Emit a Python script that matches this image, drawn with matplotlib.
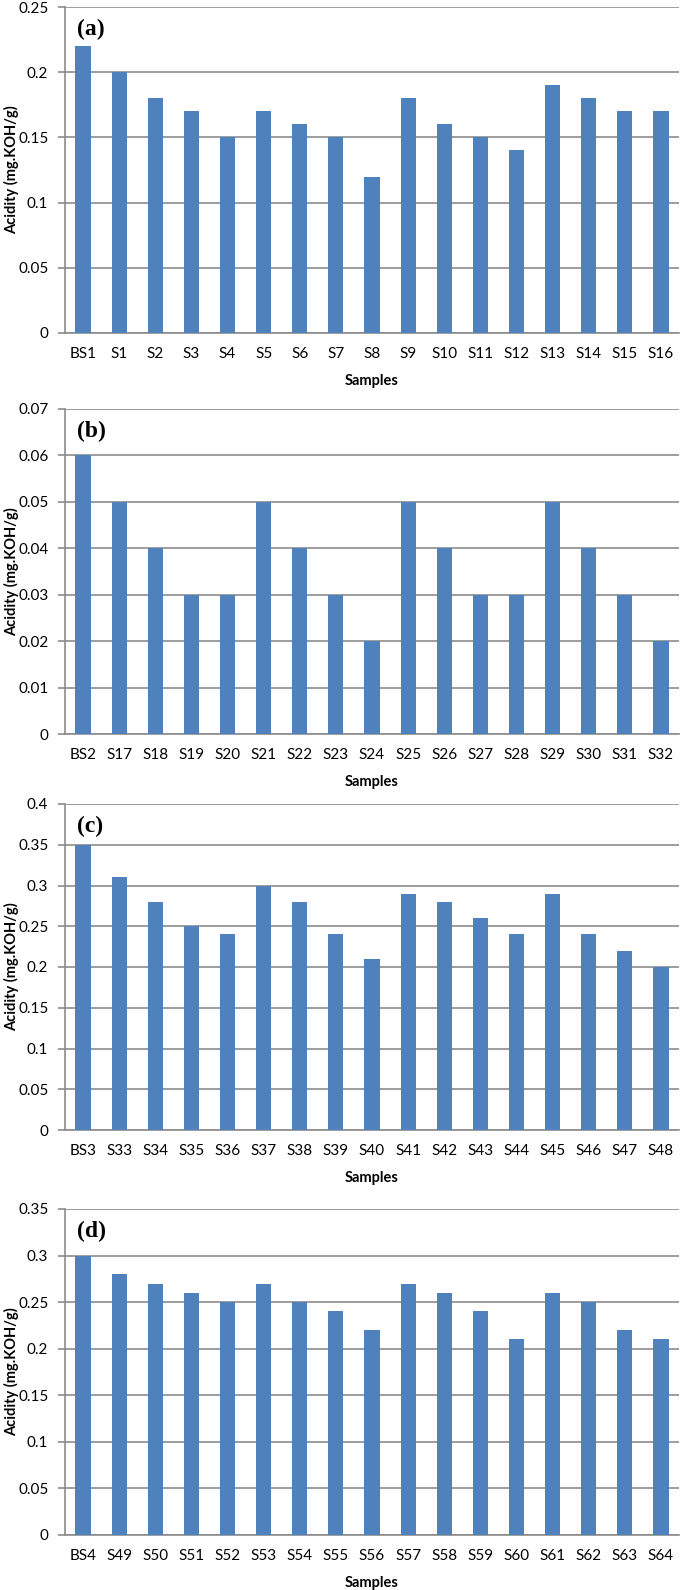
import matplotlib.pyplot as plt
from matplotlib.ticker import FuncFormatter

samples_a = ['BS1'] + ['S%d' % i for i in range(1, 17)]
samples_b = ['BS2'] + ['S%d' % i for i in range(17, 33)]
samples_c = ['BS3'] + ['S%d' % i for i in range(33, 49)]
samples_d = ['BS4'] + ['S%d' % i for i in range(49, 65)]

acid_a = [0.22, 0.20, 0.18, 0.17, 0.15, 0.17, 0.16, 0.15, 0.12, 0.18, 0.16, 0.15, 0.14, 0.19, 0.18, 0.17, 0.17]
acid_b = [0.06, 0.05, 0.04, 0.03, 0.03, 0.05, 0.04, 0.03, 0.02, 0.05, 0.04, 0.03, 0.03, 0.05, 0.04, 0.03, 0.02]
acid_c = [0.35, 0.31, 0.28, 0.25, 0.24, 0.30, 0.28, 0.24, 0.21, 0.29, 0.28, 0.26, 0.24, 0.29, 0.24, 0.22, 0.20]
acid_d = [0.30, 0.28, 0.27, 0.26, 0.25, 0.27, 0.25, 0.24, 0.22, 0.27, 0.26, 0.24, 0.21, 0.26, 0.25, 0.22, 0.21]

ymax = [0.25, 0.07, 0.4, 0.35]
ystep = [0.05, 0.01, 0.05, 0.05]
letters = ['(a)', '(b)', '(c)', '(d)']

plt.rcParams['font.family'] = ['Lato', 'DejaVu Sans']

W, H = 685, 1590
fig = plt.figure(figsize=(W / 100, H / 100), dpi=100)

# axes positions in pixels (top, bottom)
boxes = [(7, 333), (409, 734), (804, 1130), (1209, 1535)]
left, right = 65, 679

blue = '#4F81BD'
grey = '#8C8C8C'

panels = [(samples_a, acid_a), (samples_b, acid_b), (samples_c, acid_c), (samples_d, acid_d)]
for k, (names, vals) in enumerate(panels):
    top, bot = boxes[k]
    ax = fig.add_axes([left / W, 1 - bot / H, (right - left) / W, (bot - top) / H])
    x = range(len(names))
    ax.bar(x, vals, width=0.42, color=blue, zorder=3)
    ax.set_xlim(-0.5, len(names) - 0.5)
    ax.set_ylim(0, ymax[k])
    n = int(round(ymax[k] / ystep[k]))
    ax.set_yticks([i * ystep[k] for i in range(n + 1)])
    ax.yaxis.set_major_formatter(FuncFormatter(lambda v, p: '%g' % round(v, 3)))
    ax.set_xticks(list(x))
    ax.set_xticklabels(names)
    ax.grid(axis='y', color=grey, linewidth=1.2, zorder=0)
    for s in ['top', 'right']:
        ax.spines[s].set_visible(False)
    ax.spines['left'].set_color(grey)
    ax.spines['bottom'].set_color(grey)
    ax.spines['left'].set_linewidth(1.2)
    ax.spines['bottom'].set_linewidth(1.2)
    ax.tick_params(axis='y', length=5, width=1.2, color=grey, pad=7, labelsize=11)
    ax.tick_params(axis='x', length=0, pad=10, labelsize=11)
    ax.set_xlabel('Samples', fontsize=10.5, fontweight='bold')
    ax.xaxis.set_label_coords(0.5, -0.127)
    ax.set_ylabel('Acidity (mg.KOH/g)', fontsize=10.5, fontweight='bold')
    ax.yaxis.set_label_coords(-0.075, 0.5)
    ax.text(0.02, 0.93, letters[k], transform=ax.transAxes, fontsize=17,
            fontweight='bold', family='Liberation Serif', va='center', ha='left')

fig.savefig('out.png', dpi=100)
